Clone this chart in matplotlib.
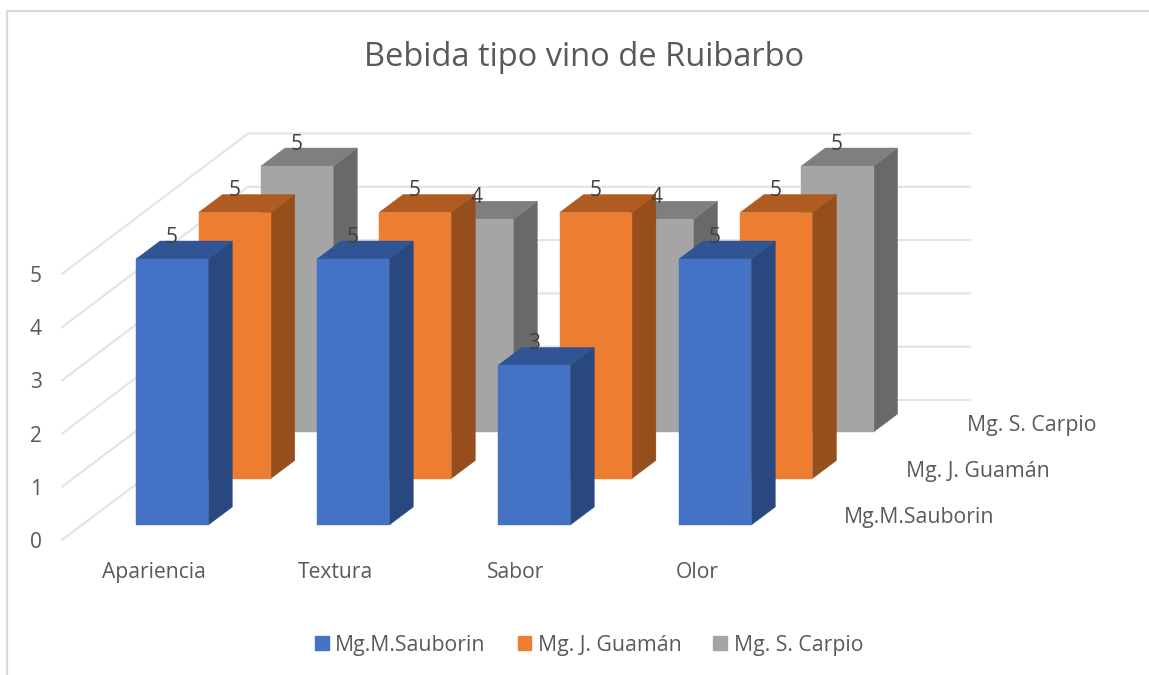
import matplotlib
matplotlib.use("Agg")
import matplotlib.pyplot as plt
from matplotlib.patches import Polygon, Patch
from matplotlib.transforms import Affine2D, blended_transform_factory

plt.rcParams['font.family'] = ['Open Sans', 'DejaVu Sans']

title = "Bebida tipo vino de Ruibarbo"
categories = ["Apariencia", "Textura", "Sabor", "Olor"]
series_names = ["Mg.M.Sauborin", "Mg. J. Guamán", "Mg. S. Carpio"]
sauborin = [5, 5, 3, 5]
guaman = [5, 5, 5, 5]
carpio = [5, 4, 4, 5]
y_ticks = [0, 1, 2, 3, 4, 5]

W, H = 1149, 675
X0, Y0 = 136.0, 525.0      # pixel of category 0 / value 0 in the front row
CAT_PX, VAL_PX = 181.0, 53.2
ROW_DX, ROW_DY = 62.5, 46.5
BAR_W, DEPTH_X, DEPTH_Y = 72.3, 24.0, 18.0
ROW_SHRINK = 0.0025        # perspective: rows further back are spaced slightly closer

fig = plt.figure(figsize=(W / 100, H / 100), dpi=100, facecolor="white")
ax = fig.add_axes([0, 0, 1, 1])
ax.set_xlim(-X0 / CAT_PX, (W - X0) / CAT_PX)
ax.set_ylim(-(H - Y0) / VAL_PX, Y0 / VAL_PX)
ax.axis("off")
px = Affine2D().scale(1 / W, -1 / H).translate(0, 1) + fig.transFigure

sx, sy = 1 / CAT_PX, 1 / VAL_PX
GRID = "#E3E3E3"
TXT = "#595959"

# chart border
ax.plot([7, 7, W], [H, 11, 11], color="#D9D9D9", lw=1.6, transform=px, clip_on=False)

# walls
for v in y_ticks:
    yf = 540 - 53.2 * v
    yb = 400 - 53.3 * v
    ax.plot([62, 248, 970], [yf, yb, yb], color=GRID, lw=1.5, transform=px, zorder=1)
    ax.text(36, yf + 8, str(v), ha="center", va="baseline", fontsize=15, color=TXT, transform=px)


def bar3d(cat, row, val, front, top, side, z):
    x = cat * (1 - ROW_SHRINK * row) + row * ROW_DX * sx
    y = row * ROW_DY * sy
    w, dx, dy = BAR_W * sx, DEPTH_X * sx, DEPTH_Y * sy
    h = y + val
    ax.add_patch(Polygon([(x + w, y), (x + w + dx, y + dy), (x + w + dx, h + dy), (x + w, h)],
                         fc=side, ec=side, lw=0.3, zorder=z))
    ax.add_patch(Polygon([(x, h), (x + dx, h + dy), (x + w + dx, h + dy), (x + w, h)],
                         fc=top, ec=top, lw=0.3, zorder=z))
    ax.add_patch(Polygon([(x, y), (x + w, y), (x + w, h), (x, h)],
                         fc=front, ec=front, lw=0.3, zorder=z + 0.1))
    ax.text(x + w / 2 - 0.5 * sx, h + 22 * sy, str(val), ha="center", va="center",
            fontsize=15, color="#404040", zorder=20)


rows = [
    (2, carpio, "#A5A5A5", "#7F7F7F", "#696969"),
    (1, guaman, "#ED7D31", "#B05B20", "#964F1C"),
    (0, sauborin, "#4472C4", "#315495", "#2A4880"),
]
for row, vals, front, top, side in rows:
    for c, v in enumerate(vals):
        bar3d(c, row, v, front, top, side, 5 + (2 - row) * 2)

# category labels
cat_tr = blended_transform_factory(ax.transData, px)
for c, name in enumerate(categories):
    ax.text(c + (154 - X0) / CAT_PX, 578, name, ha="center", va="baseline", fontsize=15.2,
            color=TXT, transform=cat_tr)

# depth axis labels
for name, (tx, ty) in zip(series_names, [(844, 523.5), (906, 477.5), (967, 430.5)]):
    ax.text(tx, ty, name, ha="left", va="baseline", fontsize=15.3, color=TXT, transform=px)

ax.text(584, 58, title, ha="center", va="center", fontsize=23.5, color=TXT, transform=px)

handles = [Patch(fc=c, ec=c, label=n) for n, c in zip(series_names, ["#4472C4", "#ED7D31", "#A5A5A5"])]
ax.legend(handles=handles, ncol=3, frameon=False, fontsize=15.3, labelcolor=TXT,
          loc="center", bbox_to_anchor=(589 / W, 1 - 645 / H), bbox_transform=fig.transFigure,
          handlelength=0.65, handleheight=0.65, handletextpad=0.3, columnspacing=1.5,
          borderpad=0, borderaxespad=0)

fig.savefig("out.png", dpi=100, facecolor="white")
